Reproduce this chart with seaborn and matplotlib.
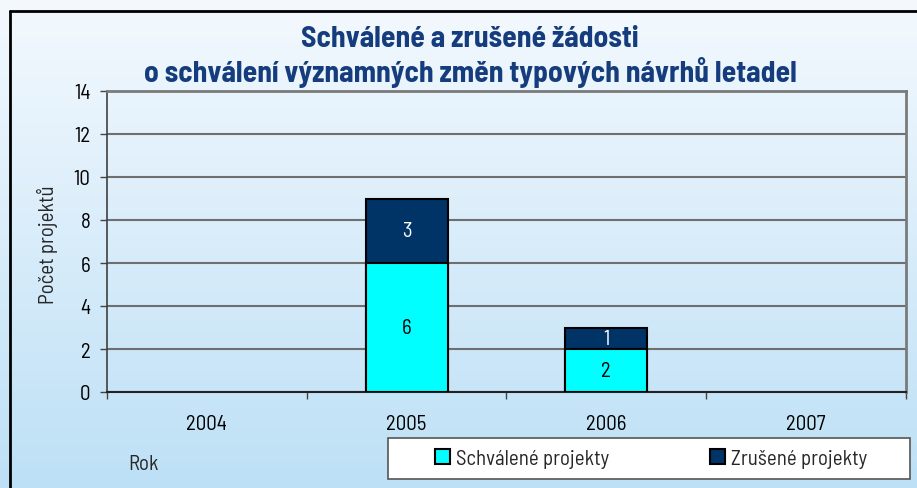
import numpy as np
import pandas as pd
import matplotlib
matplotlib.use("Agg")
import matplotlib.pyplot as plt
import seaborn as sns
from matplotlib.patches import Patch, Rectangle
from matplotlib.lines import Line2D
from matplotlib.colors import LinearSegmentedColormap

years = ["2004", "2005", "2006", "2007"]
approved = [0, 6, 2, 0]
cancelled = [0, 3, 1, 0]
series_names = ["Schválené projekty", "Zrušené projekty"]
yticks = [0, 2, 4, 6, 8, 10, 12, 14]
title = "Schválené a zrušené žádosti\no schválení významných změn typových návrhů letadel"
ylabel = "Počet projektů"
xlabel = "Rok"

c_appr = "#00ffff"
c_canc = "#003366"

sns.set_theme(style="white")
plt.rcParams['font.family'] = ['Barlow Semi Condensed', 'Barlow', 'DejaVu Sans']

FS = 15
fig = plt.figure(figsize=(9.17, 4.89), dpi=100)

# background gradient
bg = fig.add_axes([0, 0, 1, 1], zorder=0)
grad = np.linspace(0, 1, 256)[:, None]
cmap = LinearSegmentedColormap.from_list('bg', ['#f4f9fe', '#bde0f6'])
bg.imshow(grad, aspect='auto', cmap=cmap, extent=[0, 1, 0, 1], origin='upper')
bg.set_axis_off()

# outer frame
W, H = 917, 489
fig.add_artist(Line2D([10 / W, 10 / W], [0, 1 - 12 / H], color='black', lw=2, transform=fig.transFigure))
fig.add_artist(Line2D([10 / W, 1], [1 - 12 / H, 1 - 12 / H], color='black', lw=2, transform=fig.transFigure))

ax = fig.add_axes([107 / W, 1 - 393 / H, (906 - 107) / W, (393 - 92) / H], zorder=1)
ax.patch.set_alpha(0)

df = pd.DataFrame({"Rok": years, "approved": approved, "cancelled": cancelled})
df["total"] = df["approved"] + df["cancelled"]
plot_df = df.replace(0, np.nan)

sns.barplot(data=plot_df, x="Rok", y="total", color=c_canc, width=0.41, edgecolor='black',
            linewidth=1.5, saturation=1, ax=ax, zorder=3)
sns.barplot(data=plot_df, x="Rok", y="approved", color=c_appr, width=0.41, edgecolor='black',
            linewidth=1.5, saturation=1, ax=ax, zorder=4)

for i, (a, c) in enumerate(zip(approved, cancelled)):
    if a:
        ax.text(i, a / 2, str(a), ha='center', va='center', fontsize=FS, color='black', zorder=5)
    if c:
        ax.text(i, a + c / 2, str(c), ha='center', va='center', fontsize=FS, color='white', zorder=5)

ax.set_xlim(-0.5, 3.5)
ax.set_ylim(0, 14)
ax.set_yticks(yticks)
ax.set_yticklabels([str(v) for v in yticks])
ax.set_xlabel("")
ax.set_ylabel("")
ax.yaxis.grid(True, color='#6f6f6f', lw=1.5)
ax.xaxis.grid(False)
ax.set_axisbelow(True)

ax.set_xticks(np.arange(-0.5, 4, 1), minor=True)
ax.tick_params(axis='x', which='major', length=0, pad=16, labelsize=FS, colors='black')
ax.tick_params(axis='x', which='minor', length=5, width=1, direction='out', color='#444444', bottom=True)
ax.tick_params(axis='y', which='major', length=5, width=1, direction='out', color='#444444',
               pad=7, labelsize=FS, labelcolor='black', left=True)

for s in ['top', 'right']:
    ax.spines[s].set_color('#7a7a7a')
    ax.spines[s].set_linewidth(2)
ax.spines['left'].set_color('#404040')
ax.spines['left'].set_linewidth(1.2)
ax.spines['bottom'].set_color('#222222')
ax.spines['bottom'].set_linewidth(1.5)

fig.text(47 / W, 1 - 245 / H, ylabel, rotation=90, ha='center', va='center', fontsize=FS)
fig.text(143 / W, 1 - 465 / H, xlabel, ha='center', va='center', fontsize=FS)
fig.text(470 / W, 1 - 57 / H, title, ha='center', va='center', fontsize=21.3, fontweight='bold',
         color='#153c7c', linespacing=1.18)

# legend box
fig.add_artist(Rectangle((388 / W, 1 - 480 / H), (910 - 388) / W, (480 - 439) / H,
                         transform=fig.transFigure, facecolor='white', edgecolor='#555555',
                         lw=1.2, zorder=4))
handles = [Patch(facecolor=c_appr, edgecolor='black', lw=1.5),
           Patch(facecolor=c_canc, edgecolor='black', lw=1.5)]
leg = fig.legend(handles, series_names, loc='center',
                 bbox_to_anchor=((388 + 910) / 2 / W + 2 / W, 1 - 459.5 / H),
                 ncol=2, fontsize=FS, frameon=False,
                 handlelength=0.72, handleheight=0.72, handletextpad=0.29,
                 columnspacing=4.8, borderaxespad=0, borderpad=0)
leg.set_zorder(5)

fig.savefig("out.png", dpi=100)
